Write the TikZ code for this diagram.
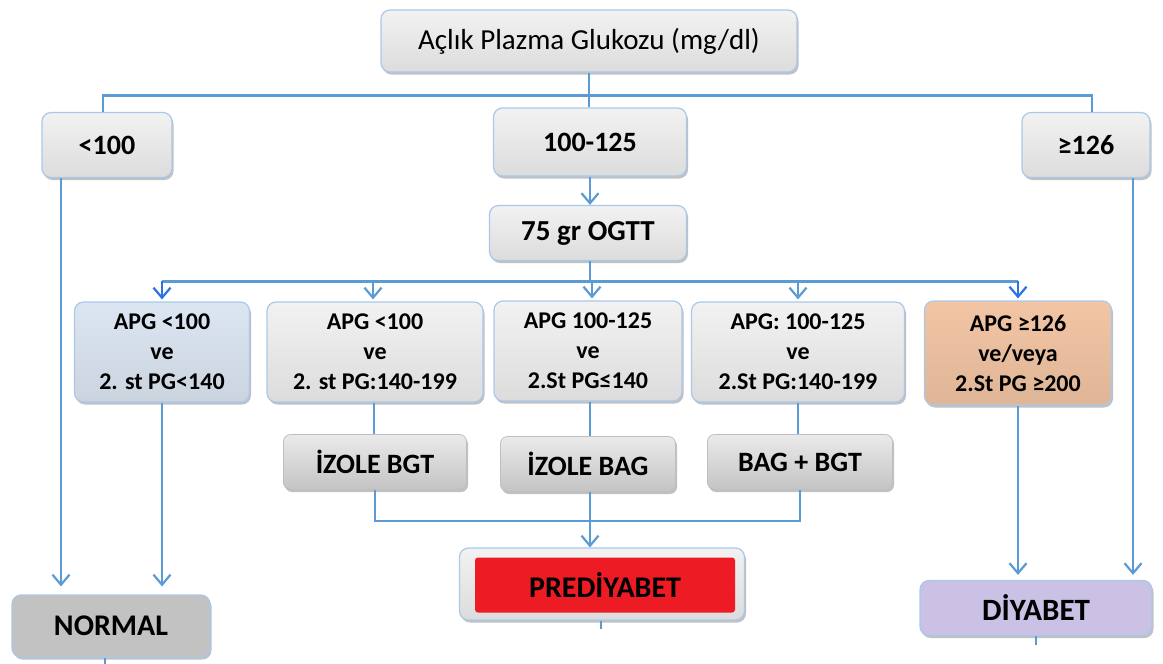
\documentclass[tikz,border=0pt]{standalone}
\usepackage{fontspec}
\setmainfont{Carlito}
\usetikzlibrary{arrows.meta,shadows,calc}
\definecolor{lnc}{HTML}{5B9BD5}
\definecolor{lnb}{HTML}{2C72E6}
\definecolor{bord}{HTML}{A9C8EA}
\definecolor{boxtop}{HTML}{F2F2F2}
\definecolor{boxbot}{HTML}{DCDCDC}
\definecolor{bluef}{HTML}{DCE6F2}
\definecolor{peach}{HTML}{F2C5A4}
\definecolor{normf}{HTML}{C2C2C2}
\definecolor{diyf}{HTML}{CBC1E5}
\definecolor{predf}{HTML}{ED1C24}
\definecolor{restop}{HTML}{EAEAEA}
\definecolor{resbot}{HTML}{C4C4C4}
\begin{document}
\begin{tikzpicture}[x=1pt,y=-1pt,
  line/.style={draw=lnc, line width=2.8pt},
  arr/.style={line, -{Straight Barb[length=10pt,width=17pt,line width=2.2pt]}},
  arrb/.style={arr, draw=lnb},
  box/.style={rounded corners=9pt, draw=bord, line width=1.2pt, top color=boxtop, bottom color=boxbot,
    align=center, inner sep=0pt, text=black,
    drop shadow={shadow xshift=1.5pt, shadow yshift=-2.5pt, opacity=0.35, fill=black!70}},
  res/.style={rounded corners=7pt, draw=black!25, line width=0.8pt, top color=restop, bottom color=resbot,
    align=center, inner sep=0pt, font={\fontsize{28}{32}\selectfont\bfseries},
    drop shadow={shadow xshift=1.5pt, shadow yshift=-2.5pt, opacity=0.35, fill=black!70}},
  big/.style={font={\fontsize{28}{32}\selectfont\bfseries}},
  mid/.style={font={\fontsize{24}{30}\selectfont\bfseries}, minimum height=100},
  fin/.style={font={\fontsize{30}{34}\selectfont\bfseries}},
]
\useasboundingbox (0,0) rectangle (1163,664);

% top
\node[box, minimum width=416, minimum height=62, font={\fontsize{29}{33}\selectfont}] (top) at (589,41) {Açlık Plazma Glukozu (mg/dl)};
% level 1
\node[box, big, minimum width=130, minimum height=65] (lt) at (107,145) {<100};
\node[box, big, minimum width=193, minimum height=68] (mi) at (590,142) {100-125};
\node[box, big, minimum width=128, minimum height=65] (ge) at (1086,145) {≥126};
% OGTT
\node[box, font={\fontsize{29}{33}\selectfont\bfseries}, minimum width=197, minimum height=55] (og) at (588,233) {75 gr OGTT};
% level 2
\node[box, mid, minimum width=175, top color=bluef, bottom color=bluef!92!black] (b1) at (162,352) {APG <100\\ve\\2. st PG<140};
\node[box, mid, minimum width=216] (b2) at (375,352) {APG <100\\ve\\2. st PG:140-199};
\node[box, mid, minimum width=188] (b3) at (588,351) {APG 100-125\\ve\\2.St PG≤140};
\node[box, mid, minimum width=213] (b4) at (798,352) {APG: 100-125\\ve\\2.St PG:140-199};
\node[box, mid, minimum width=187, minimum height=104, top color=peach, bottom color=peach!92!black] (b5) at (1018,353) {APG ≥126\\ve/veya\\2.St PG ≥200};
% results
\node[res, minimum width=183, minimum height=55] (r2) at (375,462) {İZOLE BGT};
\node[res, minimum width=175, minimum height=55] (r3) at (588,464) {İZOLE BAG};
\node[res, minimum width=185, minimum height=55] (r4) at (800,462) {BAG + BGT};
% finals
\node[box, fin, minimum width=198, minimum height=62, top color=normf, bottom color=normf] (nor) at (111,626) {NORMAL};
\node[box, minimum width=285, minimum height=72] (preo) at (602,584) {};
\node[fin, fill=predf, rounded corners=3pt, minimum width=260, minimum height=55, inner sep=0pt] (pre) at (605,585) {PREDİYABET};
\node[box, fin, font={\fontsize{31}{35}\selectfont\bfseries}, minimum width=232, minimum height=55, top color=diyf, bottom color=diyf] (dia) at (1036,608) {DİYABET};

% connectors top
\draw[line] (top.south) -- (top.south |- mi.north);
\draw[line] ($(lt.north)+(-4,0)$) |- ($(top.south)+(0,23)$) -| ($(ge.north)+(6,0)$);
\draw[arr] (mi.south) -- (mi.south |- og.north);
% OGTT fan
\draw[line] ($(og.south)+(2,0)$) -- ($(og.south)+(2,20)$) coordinate (h2);
\draw[line] (b1.north |- h2) -- (b5.north |- h2);
\draw[arrb] (b1.north |- h2) -- ($(b1.north)+(0,-2)$);
\draw[arr] ($(b2.north |- h2)+(-2,0)$) -- ($(b2.north)+(-2,-2)$);
\draw[arr] ($(b3.north |- h2)+(4,0)$) -- ($(b3.north)+(4,-2)$);
\draw[arr] (b4.north |- h2) -- ($(b4.north)+(0,-2)$);
\draw[arrb] (b5.north |- h2) -- ($(b5.north)+(0,-2)$);
% to NORMAL
\draw[arr] ($(lt.south)+(-46,0)$) -- ($(lt.south |- nor.north)+(-46,-8)$);
\draw[arr] (b1.south) -- ($(b1.south |- nor.north)+(0,-8)$);
% to results
\draw[line] ($(b2.south)+(-1,0)$) -- ($(b2.south |- r2.north)+(-1,0)$);
\draw[line] ($(b3.south)+(2,0)$) -- ($(b3.south |- r3.north)+(2,0)$);
\draw[line] (b4.south) -- (b4.south |- r4.north);
% to PREDIYABET
\draw[line] (r2.south) -- ($(r2.south)+(0,31)$) -| (r4.south);
\draw[arr] ($(r3.south)+(2,0)$) -- ($(r3.south |- preo.north)+(2,0)$);
% to DIYABET
\draw[arr] (b5.south) -- ($(b5.south |- dia.north)+(0,-5)$);
\draw[arr] ($(ge.south)+(47,0)$) -- ($(ge.south |- dia.north)+(47,-5)$);
% stubs
\draw[line] ($(nor.south)+(-6,0)$) -- ($(nor.south)+(-6,9)$) coordinate (s1);
\draw[line] ($(preo.south)+(-1,0)$) -- ($(preo.south)+(-1,8)$) coordinate (s2);
\draw[line] (dia.south) -- ($(dia.south)+(0,9)$) coordinate (s3);
\end{tikzpicture}
\end{document}
